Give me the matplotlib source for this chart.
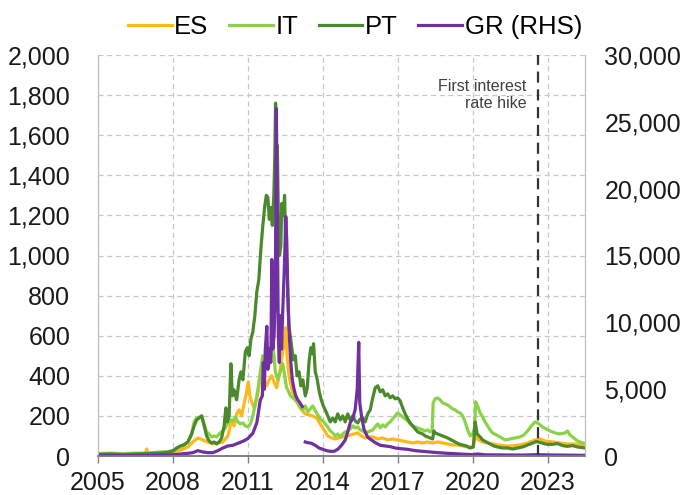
import numpy as np
import matplotlib
matplotlib.use("Agg")
import matplotlib.pyplot as plt

plt.rcParams['font.family'] = ['Liberation Sans', 'DejaVu Sans']

# ---------------- data ----------------
pt_x = [2005.0, 2005.5, 2006.0, 2006.5, 2007.0, 2007.5, 2007.8, 2008.0, 2008.15, 2008.3, 2008.45, 2008.6,
        2008.75, 2008.85, 2008.95, 2009.05, 2009.15, 2009.25, 2009.35, 2009.45, 2009.55, 2009.65, 2009.75,
        2009.85, 2009.95, 2010.05, 2010.12, 2010.18, 2010.25, 2010.32, 2010.38, 2010.45, 2010.55, 2010.65,
        2010.72, 2010.8, 2010.9, 2010.98, 2011.05, 2011.12, 2011.2, 2011.28, 2011.36, 2011.44, 2011.52,
        2011.6, 2011.68, 2011.74, 2011.8, 2011.86, 2011.92, 2011.98, 2012.04, 2012.08, 2012.11, 2012.14,
        2012.18, 2012.22, 2012.27, 2012.32, 2012.36, 2012.42, 2012.47, 2012.52, 2012.58, 2012.64, 2012.7,
        2012.76, 2012.82, 2012.9, 2012.97, 2013.05, 2013.12, 2013.2, 2013.3, 2013.38, 2013.45, 2013.52,
        2013.58, 2013.63, 2013.7, 2013.78, 2013.86, 2013.94, 2014.02, 2014.1, 2014.2, 2014.3, 2014.4,
        2014.5, 2014.6, 2014.7, 2014.8, 2014.9, 2015.0, 2015.1, 2015.2, 2015.3, 2015.4, 2015.5, 2015.6,
        2015.7, 2015.8, 2015.9, 2016.0, 2016.1, 2016.2, 2016.3, 2016.4, 2016.5, 2016.6, 2016.7, 2016.8,
        2016.9, 2017.0, 2017.1, 2017.2, 2017.3, 2017.4, 2017.5, 2017.6, 2017.7, 2017.8, 2017.9, 2018.0,
        2018.1, 2018.2, 2018.3, 2018.4, 2018.45, 2018.5, 2018.6, 2018.7, 2018.8, 2018.9, 2019.0, 2019.15,
        2019.3, 2019.45, 2019.6, 2019.75, 2019.9, 2020.03, 2020.1, 2020.18, 2020.3, 2020.4, 2020.55,
        2020.7, 2020.85, 2021.0, 2021.2, 2021.4, 2021.6, 2021.8, 2022.0, 2022.2, 2022.4, 2022.55, 2022.7,
        2022.85, 2023.0, 2023.2, 2023.4, 2023.6, 2023.8, 2024.0, 2024.2, 2024.4, 2024.5]
pt_y = [8, 10, 7, 10, 12, 15, 18, 25, 40, 50, 55, 70,
        110, 150, 180, 190, 200, 150, 100, 75, 65, 70, 60,
        70, 90, 150, 240, 170, 200, 460, 300, 330, 280, 380,
        420, 380, 520, 540, 500, 580, 620, 700, 820, 880, 1030,
        1150, 1250, 1300, 1290, 1180, 1240, 1150, 1300, 1500, 1760, 1400,
        1550, 1200, 1000, 1050, 1260, 1200, 1300, 1050, 900, 650, 600,
        540, 480, 500, 400, 420, 350, 380, 300, 340, 470, 540,
        510, 560, 420, 380, 320, 280, 250, 230, 200, 170, 190,
        170, 210, 180, 200, 170, 210, 180, 200, 175, 165, 185, 190,
        170, 210, 230, 290, 340, 350, 320, 330, 300, 310, 290, 300,
        285, 290, 275, 240, 210, 185, 165, 150, 135, 120, 115, 110,
        100, 95, 90, 85, 125, 115, 110, 105, 100, 95, 90, 80,
        70, 60, 55, 50, 40, 45, 170, 110, 95, 80, 70,
        60, 50, 45, 40, 40, 35, 40, 45, 55, 65, 72, 68,
        62, 58, 58, 62, 52, 48, 52, 45, 42, 40]

it_x = [2005.0, 2005.5, 2006.0, 2006.5, 2007.0, 2007.5, 2007.8, 2008.0, 2008.2, 2008.4, 2008.6, 2008.75,
        2008.85, 2008.95, 2009.05, 2009.15, 2009.25, 2009.35, 2009.45, 2009.55, 2009.65, 2009.75, 2009.85,
        2009.95, 2010.1, 2010.2, 2010.3, 2010.4, 2010.5, 2010.6, 2010.7, 2010.8, 2010.9, 2011.0, 2011.1,
        2011.2, 2011.3, 2011.4, 2011.5, 2011.6, 2011.7, 2011.8, 2011.9, 2012.0, 2012.05, 2012.1, 2012.2,
        2012.3, 2012.4, 2012.5, 2012.55, 2012.6, 2012.7, 2012.8, 2012.9, 2013.0, 2013.1, 2013.2, 2013.3,
        2013.4, 2013.5, 2013.6, 2013.7, 2013.8, 2013.9, 2014.0, 2014.1, 2014.2, 2014.3, 2014.4, 2014.5,
        2014.6, 2014.7, 2014.8, 2014.9, 2015.0, 2015.1, 2015.2, 2015.3, 2015.4, 2015.5, 2015.6, 2015.7,
        2015.8, 2015.9, 2016.0, 2016.1, 2016.2, 2016.3, 2016.4, 2016.5, 2016.6, 2016.7, 2016.8, 2016.9,
        2017.0, 2017.1, 2017.2, 2017.3, 2017.4, 2017.5, 2017.6, 2017.7, 2017.8, 2017.9, 2018.0, 2018.1,
        2018.2, 2018.3, 2018.38, 2018.42, 2018.5, 2018.6, 2018.7, 2018.8, 2018.9, 2019.0, 2019.1, 2019.2,
        2019.3, 2019.4, 2019.5, 2019.6, 2019.7, 2019.8, 2019.9, 2020.0, 2020.08, 2020.12, 2020.2, 2020.3,
        2020.4, 2020.5, 2020.6, 2020.7, 2020.8, 2020.95, 2021.1, 2021.3, 2021.5, 2021.7, 2021.9, 2022.05,
        2022.2, 2022.35, 2022.5, 2022.6, 2022.7, 2022.8, 2022.95, 2023.1, 2023.3, 2023.5, 2023.7, 2023.8,
        2023.9, 2024.05, 2024.2, 2024.35, 2024.5]
it_y = [12, 14, 12, 14, 15, 20, 22, 28, 40, 55, 70, 110,
        170, 190, 190, 200, 160, 120, 110, 95, 100, 95, 110,
        120, 140, 165, 180, 175, 195, 170, 160, 165, 150, 145, 160,
        200, 260, 330, 420, 500, 470, 430, 480, 540, 500, 420, 380,
        420, 460, 380, 340, 330, 300, 290, 280, 270, 240, 230, 250,
        220, 235, 250, 225, 205, 185, 175, 160, 145, 125, 115, 100,
        110, 95, 110, 120, 125, 135, 150, 140, 145, 130, 125, 115,
        120, 125, 130, 145, 160, 140, 155, 145, 160, 170, 185, 200,
        215, 205, 195, 185, 175, 160, 150, 145, 140, 135, 130, 125,
        130, 120, 125, 265, 285, 290, 280, 265, 260, 255, 245, 235,
        230, 220, 215, 200, 170, 130, 100, 110, 140, 270, 250, 215,
        195, 170, 150, 130, 115, 105, 95, 80, 85, 90, 95, 105,
        125, 150, 170, 165, 155, 145, 135, 125, 115, 110, 115, 125,
        105, 90, 75, 68, 62]

es_x = [2005.0, 2005.5, 2006.0, 2006.5, 2006.9, 2006.95, 2007.0, 2007.5, 2008.0, 2008.3, 2008.6, 2008.8,
        2009.0, 2009.2, 2009.4, 2009.6, 2009.8, 2010.0, 2010.2, 2010.35, 2010.45, 2010.55, 2010.65,
        2010.75, 2010.85, 2010.95, 2011.02, 2011.08, 2011.15, 2011.25, 2011.35, 2011.45, 2011.55,
        2011.65, 2011.75, 2011.85, 2011.95, 2012.05, 2012.15, 2012.25, 2012.35, 2012.45, 2012.52,
        2012.57, 2012.65, 2012.75, 2012.85, 2012.95, 2013.05, 2013.15, 2013.3, 2013.45, 2013.6, 2013.75,
        2013.9, 2014.05, 2014.2, 2014.35, 2014.5, 2014.65, 2014.8, 2014.95, 2015.1, 2015.25, 2015.4,
        2015.55, 2015.7, 2015.85, 2016.0, 2016.2, 2016.4, 2016.6, 2016.8, 2017.0, 2017.2, 2017.4, 2017.6,
        2017.8, 2018.0, 2018.2, 2018.4, 2018.6, 2018.8, 2019.0, 2019.2, 2019.4, 2019.6, 2019.8, 2020.0,
        2020.12, 2020.25, 2020.4, 2020.6, 2020.8, 2021.0, 2021.3, 2021.6, 2021.9, 2022.2, 2022.5, 2022.7,
        2022.9, 2023.2, 2023.5, 2023.8, 2024.1, 2024.5]
es_y = [5, 6, 5, 6, 8, 35, 10, 12, 20, 30, 45, 70,
        90, 80, 70, 60, 65, 70, 100, 180, 150, 210, 230,
        200, 260, 320, 370, 300, 270, 240, 280, 350, 430,
        380, 350, 380, 400, 370, 340, 400, 480, 560, 640,
        500, 400, 340, 290, 270, 250, 230, 210, 205, 200, 190,
        160, 130, 100, 90, 85, 90, 95, 100, 105, 110, 115,
        100, 90, 95, 95, 85, 90, 80, 85, 80, 75, 70, 65,
        70, 65, 70, 65, 70, 65, 60, 55, 55, 50, 45, 45,
        95, 80, 70, 65, 60, 55, 50, 50, 55, 65, 80, 85,
        75, 70, 65, 60, 60, 55]

gr_x = [2005.0, 2006.0, 2007.0, 2007.8, 2008.0, 2008.3, 2008.6, 2008.8, 2009.0, 2009.2, 2009.4, 2009.6,
        2009.8, 2010.0, 2010.2, 2010.4, 2010.6, 2010.8, 2011.0, 2011.2, 2011.36, 2011.5, 2011.58, 2011.62,
        2011.66, 2011.7, 2011.76, 2011.8, 2011.86, 2011.92, 2011.96, 2012.0, 2012.05, 2012.1, 2012.14,
        2012.18, 2012.22, 2012.26, 2012.3, 2012.35, 2012.4, 2012.46, 2012.52, 2012.56, 2012.6, 2012.66,
        2012.72, 2012.78, 2012.85, 2012.92, 2013.0, 2013.08, 2013.18, 2013.24, 2013.3, 2013.4, 2013.55,
        2013.7, 2013.85, 2014.0, 2014.15, 2014.3, 2014.45, 2014.6, 2014.75, 2014.9, 2015.0, 2015.1,
        2015.2, 2015.3, 2015.38, 2015.44, 2015.48, 2015.55, 2015.65, 2015.8, 2015.95, 2016.1, 2016.3,
        2016.5, 2016.7, 2016.9, 2017.1, 2017.4, 2017.7, 2018.0, 2018.3, 2018.6, 2019.0, 2019.5, 2020.0,
        2020.2, 2020.5, 2021.0, 2022.0, 2022.6, 2023.0, 2024.0, 2024.5]
gr_y = [50, 40, 50, 80, 100, 150, 200, 250, 400, 300, 250, 250,
        400, 600, 750, 800, 950, 1100, 1300, 1700, 2500, 4200, 4500, 7000,
        5000, 8000, 9700, 6500, 8000, 7000, 14700, 8000, 9000, 12000, 26000,
        18000, 9000, 7000, 10500, 8000, 11000, 14000, 17900, 16000, 12000, 9000,
        7000, 5700, 5000, 4500, 4200, 4000, 3700, np.nan, 1050, 1000, 950,
        800, 600, 500, 400, 350, 350, 500, 800, 1200, 1800, 2500,
        2800, 3500, 5000, 8500, 4000, 3000, 2000, 1400, 1200, 1000, 800,
        750, 700, 600, 550, 500, 400, 350, 300, 250, 200, 150, 100,
        150, 90, 80, 70, 100, 80, 60, 50]

hike_year = 2022.6
x_ticks = [2005, 2008, 2011, 2014, 2017, 2020, 2023]
left_ticks = list(range(0, 2001, 200))
right_ticks = list(range(0, 30001, 5000))

# ---------------- figure ----------------
fig = plt.figure(figsize=(6.88, 4.95), dpi=100)
ax = fig.add_axes([98/688, 1-456/495, (585-98)/688, (456-55)/495])
ax2 = ax.twinx()

c_es, c_it, c_pt, c_gr = '#FFB81C', '#8CD248', '#4A8A2C', '#7030A0'
lw = 2.3
l_es, = ax.plot(es_x, es_y, color=c_es, lw=lw, label='ES')
l_it, = ax.plot(it_x, it_y, color=c_it, lw=lw, label='IT')
l_pt, = ax.plot(pt_x, pt_y, color=c_pt, lw=lw, label='PT')
l_gr, = ax2.plot(gr_x, gr_y, color=c_gr, lw=lw, label='GR (RHS)')

ax.set_xlim(2005, 2024.5)
ax.set_ylim(0, 2000)
ax2.set_ylim(0, 30000)
ax.set_xticks(x_ticks)
ax.set_yticks(left_ticks)
ax2.set_yticks(right_ticks)
ax.set_yticklabels([f"{v:,}" for v in left_ticks])
ax2.set_yticklabels([f"{v:,}" for v in right_ticks])

grid_kw = dict(color='#C8C8C8', lw=0.9, ls=(0, (4, 3)))
ax.grid(True, axis='both', **grid_kw)
ax.set_axisbelow(True)

ax.tick_params(axis='y', length=0, pad=20, labelsize=18, colors='#1a1a1a')
ax.tick_params(axis='x', length=5, width=1, color='#808080', pad=6, labelsize=18, labelcolor='#1a1a1a')
ax2.tick_params(axis='y', length=0, pad=14, labelsize=18, colors='#1a1a1a')

for a in (ax, ax2):
    a.spines['top'].set_visible(False)
    a.spines['left'].set_color('#BFBFBF')
    a.spines['right'].set_color('#BFBFBF')
    a.spines['bottom'].set_color('#808080')
    a.spines['bottom'].set_linewidth(1.2)

ax2.axvline(hike_year, color='#333333', lw=1.6, ls=(0, (5, 3)))
ax2.text(hike_year - 0.45, 27000, "First interest\nrate hike", ha='right', va='center',
         fontsize=11.5, color='#404040', linespacing=1.15)

fig.legend(handles=[l_es, l_it, l_pt, l_gr], loc='center', bbox_to_anchor=(355/688, 1-27/495),
           ncol=4, frameon=False, fontsize=18.5, handlelength=1.7, handletextpad=0.1,
           columnspacing=0.8, borderaxespad=0)

fig.savefig('out.png', dpi=100)
